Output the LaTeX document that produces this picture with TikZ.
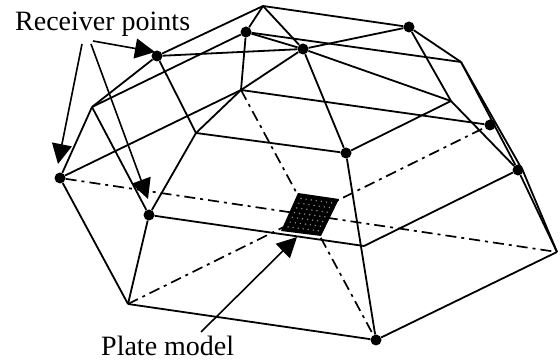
\documentclass[tikz,border=0pt]{standalone}
\usepackage{fontspec}
\setmainfont{Liberation Serif}
\usepackage{tikz}
\usetikzlibrary{arrows.meta, positioning, calc}

\begin{document}
\begin{tikzpicture}[
  x=1pt, y=-1pt,
  font=\fontsize{28}{30}\selectfont,
  receiver/.style={circle, fill=black, inner sep=0pt, minimum size=11pt},
  edge/.style={line width=1.8pt, line join=round},
  diag/.style={line width=1.7pt, dash pattern=on 11pt off 5pt on 3pt off 5pt},
  callout/.style={line width=1.6pt, -{Triangle[length=20pt, width=20pt]}}
]
  \useasboundingbox (0,0) rectangle (560,363);

  % top and corners of the roof
  \foreach \n/\p in {apex/{263,6}, ridge/{461,62}, inR/{451,101}, inL/{92,107},
                     midN/{196,133}, midO/{241,90}, baseQ/{128,304}, baseJ/{557,252},
                     midS/{364,246}, bendI/{523,171}} {
    \coordinate (\n) at (\p);
  }
  % receiver points
  \foreach \n/\p in {recB/{157,56}, recC/{246,32}, recD/{303,49}, recE/{409,27},
                     recH/{490,125}, recI/{518,170}, recK/{346,153}, recM/{60,178},
                     recP/{149,215}, recR/{376,340}} {
    \node[receiver] (\n) at (\p) {};
  }

  % base diagonals
  \foreach \a/\b in {recM/baseJ, baseQ/recH, midO/recR} {
    \draw[diag] (\a) -- (\b);
  }

  % plate on top of the diagonals
  \coordinate (plateA) at (298,193);
  \coordinate (plateB) at (339,199);
  \coordinate (plateC) at (321,236);
  \coordinate (plateD) at (281,231);
  \fill[black] (plateA) -- (plateB) -- (plateC) -- (plateD) -- cycle;
  \foreach \u in {1,...,7} {
    \foreach \v in {1,...,7} {
      \fill[white, opacity=0.55]
        ($($(plateA)!\u/8!(plateB)$)!\v/8!($(plateD)!\u/8!(plateC)$)$) circle (0.8pt);
    }
  }

  % frame
  \foreach \a/\b in {apex/recB, apex/recC, apex/recD, apex/recE,
                     recC/recD, recC/ridge, recB/recD, recD/recE,
                     recB/inL, inL/recC, recC/midO, recD/midO, midO/midN,
                     recB/midN, midN/recP, inL/recP, recM/inL, recM/midO,
                     midO/recH, midN/recK, recD/recK, recD/inR, recE/inR,
                     recE/ridge, ridge/recI, recI/baseJ, ridge/bendI, bendI/baseJ,
                     inR/recI, inR/recK,
                     recI/midS, recK/recR, recP/midS, baseQ/recR, recR/baseJ,
                     recP/baseQ, recM/baseQ} {
    \draw[edge] (\a) -- (\b);
  }

  % labels
  \node[anchor=base west, inner sep=0pt] (lblrec) at (15,31) {Receiver points};
  \node[anchor=base west, inner sep=0pt] (lblplate) at (101,356) {Plate model};

  \coordinate (fromM) at (82,44);
  \coordinate (fromP) at (91,44);
  \coordinate (fromB) at (93,41);
  \coordinate (fromPl) at (201,332);
  \coordinate (toM) at (58,164);
  \coordinate (toP) at (148,199);
  \coordinate (toB) at (155,52);
  \coordinate (toPl) at (297,237);
  \draw[callout] (fromM) -- (toM);
  \draw[callout] (fromP) -- (toP);
  \draw[callout] (fromB) -- (toB);
  \draw[callout] (fromPl) -- (toPl);
\end{tikzpicture}
\end{document}
